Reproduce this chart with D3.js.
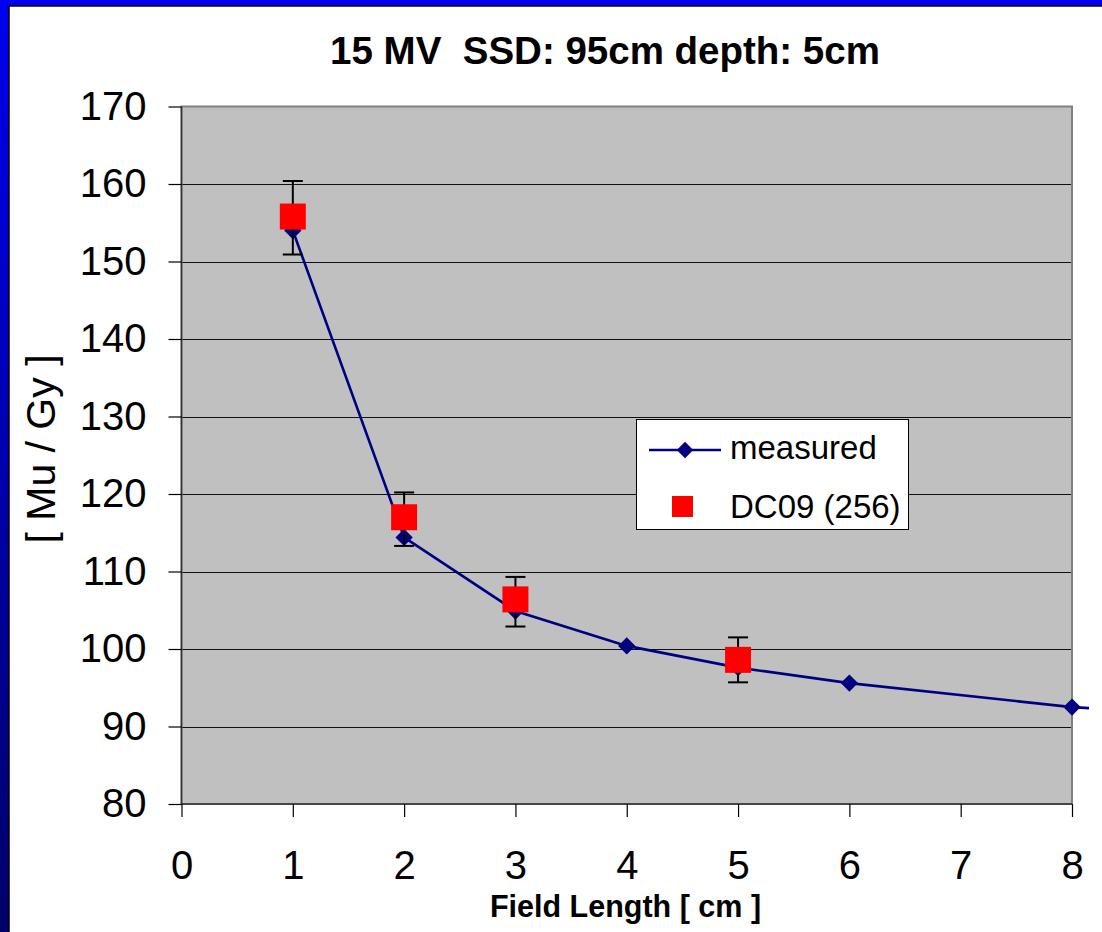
<!DOCTYPE html>
<html><head><meta charset="utf-8">
<script src="https://cdn.jsdelivr.net/npm/d3@7"></script>
<style>html,body{margin:0;padding:0;background:#fff;overflow:hidden}svg{display:block}text{font-family:Arial,"Liberation Sans",sans-serif}</style>
</head><body>
<svg id="c" width="1102" height="932"></svg>
<script>
// ---- data ----
const title = "15 MV  SSD: 95cm depth: 5cm";
const xTitle = "Field Length [ cm ]";
const yTitle = "[ Mu / Gy ]";
const xTicks = [0,1,2,3,4,5,6,7,8];
const yTicks = [80,90,100,110,120,130,140,150,160,170];
const measuredX = [1,2,3,4,5,6,8,10];
const measuredY = [154.0,114.4,104.9,100.4,97.6,95.6,92.5,90.8];
const dcX = [1,2,3,5];
const dcY = [155.8,117.0,106.4,98.6];
const dcErrLow = [150.9,113.3,102.9,95.7];
const dcErrHigh = [160.4,120.2,109.3,101.5];
const legendNames = ["measured","DC09 (256)"];

// ---- layout ----
const svg = d3.select("#c");
const L = 181.5, R = 1072, T = 106.5, B = 804;
const x = d3.scaleLinear().domain([0,8]).range([L,R]);
const y = d3.scaleLinear().domain([80,170]).range([B,T]);

// slide frame
const defs = svg.append("defs");
const g1 = defs.append("linearGradient").attr("id","lg").attr("x1",0).attr("y1",0).attr("x2",0).attr("y2",1);
g1.append("stop").attr("offset","0%").attr("stop-color","#0000F0");
g1.append("stop").attr("offset","100%").attr("stop-color","#000068");
svg.append("rect").attr("x",0).attr("y",0).attr("width",1102).attr("height",6).attr("fill","#0000EE");
svg.append("rect").attr("x",0).attr("y",0).attr("width",9).attr("height",932).attr("fill","url(#lg)");
svg.append("line").attr("x1",9).attr("x2",1102).attr("y1",6).attr("y2",6).attr("stroke","#000").attr("stroke-width",1.5);
svg.append("line").attr("x1",9).attr("x2",9).attr("y1",6).attr("y2",932).attr("stroke","#000").attr("stroke-width",1.5);

// plot area
svg.append("rect").attr("x",L).attr("y",T).attr("width",R-L).attr("height",B-T).attr("fill","#C0C0C0");

// gridlines
svg.append("g").selectAll("line").data(yTicks.filter(v=>v>80 && v<170)).join("line")
  .attr("x1",L).attr("x2",R).attr("y1",d=>Math.round(y(d))+0.5).attr("y2",d=>Math.round(y(d))+0.5)
  .attr("stroke","#111").attr("stroke-width",1);

// frame
svg.append("rect").attr("x",L).attr("y",T).attr("width",R-L).attr("height",B-T)
  .attr("fill","none").attr("stroke","#808080").attr("stroke-width",2);
svg.append("line").attr("x1",L).attr("x2",L).attr("y1",T).attr("y2",B).attr("stroke","#333").attr("stroke-width",1.5);
svg.append("line").attr("x1",L).attr("x2",R).attr("y1",B).attr("y2",B).attr("stroke","#333").attr("stroke-width",1.5);

// axes
const yAxis = d3.axisLeft(y).tickValues(yTicks).tickSize(13).tickPadding(22).tickFormat(d3.format("d"));
const ya = svg.append("g").attr("transform",`translate(${L},0)`).call(yAxis);
ya.select(".domain").remove();
ya.selectAll("line").attr("stroke","#000").attr("stroke-width",1.2);
ya.selectAll("text").attr("font-size",40).attr("fill","#000").attr("font-family","Arial, 'Liberation Sans', sans-serif");

const xAxis = d3.axisBottom(x).tickValues(xTicks).tickSize(13).tickPadding(34).tickFormat(d3.format("d"));
const xa = svg.append("g").attr("transform",`translate(0,${B})`).call(xAxis);
xa.select(".domain").remove();
xa.selectAll("line").attr("stroke","#000").attr("stroke-width",1.2);
xa.selectAll("text").attr("font-size",40).attr("fill","#000").attr("font-family","Arial, 'Liberation Sans', sans-serif");

// titles
svg.append("text").attr("x",605).attr("y",64).attr("text-anchor","middle")
  .attr("font-size",38.5).attr("font-weight","bold").attr("xml:space","preserve").style("white-space","pre").text(title);
svg.append("text").attr("x",625.5).attr("y",917).attr("text-anchor","middle")
  .attr("font-size",30.5).attr("font-weight","bold").text(xTitle);
svg.append("text").attr("transform","translate(55,449) rotate(-90)").attr("text-anchor","middle")
  .attr("font-size",41).text(yTitle);

// series
defs.append("clipPath").attr("id","clip").append("rect").attr("x",L-20).attr("y",T-20).attr("width",R-L+37).attr("height",B-T+40);
const mData = measuredX.map((v,i)=>({x:v,y:measuredY[i]}));
const dData = dcX.map((v,i)=>({x:v,y:dcY[i],lo:dcErrLow[i],hi:dcErrHigh[i]}));
const gS = svg.append("g").attr("clip-path","url(#clip)");
gS.append("path").datum(mData).attr("fill","none").attr("stroke","#000080").attr("stroke-width",2.6)
  .attr("d",d3.line().x(d=>x(d.x)).y(d=>y(d.y)));
const diamond = d3.symbol().type(d3.symbolSquare).size(150);
gS.selectAll(".dm").data(mData.filter(d=>d.x<=8)).join("path").attr("class","dm")
  .attr("d",diamond).attr("transform",d=>`translate(${x(d.x)},${y(d.y)}) rotate(45)`).attr("fill","#000080");

// error bars
const eb = gS.selectAll(".eb").data(dData).join("g").attr("class","eb").attr("stroke","#000").attr("stroke-width",2);
eb.append("line").attr("x1",d=>x(d.x)).attr("x2",d=>x(d.x)).attr("y1",d=>y(d.lo)).attr("y2",d=>y(d.hi));
eb.append("line").attr("x1",d=>x(d.x)-10).attr("x2",d=>x(d.x)+10).attr("y1",d=>y(d.lo)).attr("y2",d=>y(d.lo));
eb.append("line").attr("x1",d=>x(d.x)-10).attr("x2",d=>x(d.x)+10).attr("y1",d=>y(d.hi)).attr("y2",d=>y(d.hi));

gS.selectAll(".sq").data(dData).join("rect").attr("class","sq")
  .attr("x",d=>x(d.x)-13).attr("y",d=>y(d.y)-13).attr("width",26).attr("height",26).attr("fill","#FF0000");

// legend
const lg = svg.append("g");
lg.append("rect").attr("x",636.5).attr("y",419.5).attr("width",272).attr("height",110).attr("fill","#fff").attr("stroke","#000").attr("stroke-width",1);
lg.append("line").attr("x1",649).attr("x2",721).attr("y1",450).attr("y2",450).attr("stroke","#000080").attr("stroke-width",2.6);
lg.append("path").attr("d",d3.symbol().type(d3.symbolSquare).size(135)).attr("transform","translate(685,450) rotate(45)").attr("fill","#000080");
lg.append("rect").attr("x",672).attr("y",496).attr("width",21).attr("height",21).attr("fill","#FF0000");
lg.selectAll("text.lt").data(legendNames).join("text").attr("class","lt")
  .attr("x",730).attr("y",(d,i)=>i===0?459:518).attr("font-size",33).attr("fill","#000").text(d=>d);
</script>
</body></html>
